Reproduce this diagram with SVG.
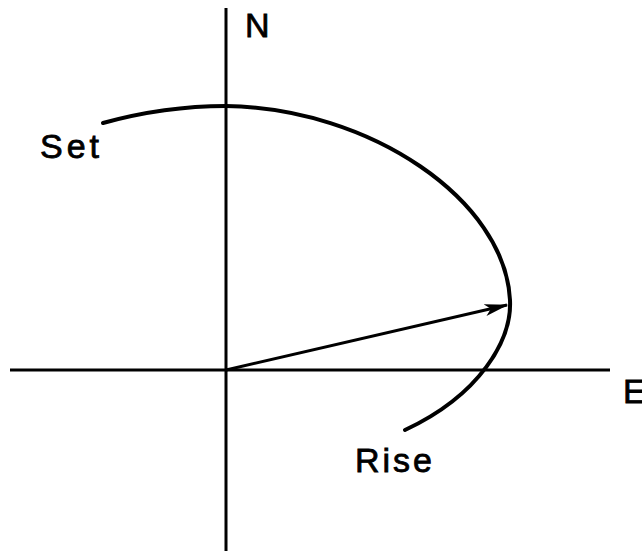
<svg xmlns="http://www.w3.org/2000/svg" width="642" height="551" viewBox="0 0 642 551">
<defs>
<style>
.ax{stroke:#000;stroke-width:3;fill:none}
.cv{stroke:#000;stroke-width:4;fill:none;stroke-linecap:round}
.t{font-family:"Liberation Sans",Arial,sans-serif;font-size:34px;fill:#000;stroke:#000;stroke-width:0.8px;letter-spacing:3px}
</style>
<marker id="ah" viewBox="0 0 16 10" refX="15" refY="5" markerWidth="8" markerHeight="5" orient="auto" markerUnits="strokeWidth">
<path d="M0,1 L16,5 L0,9 L4,5 Z" fill="#000"/>
</marker>
</defs>
<rect width="642" height="551" fill="#fff"/>
<g id="connectors">
<line id="axis-ns" class="ax" x1="226" y1="8" x2="226" y2="551"/>
<line id="axis-ew" class="ax" x1="10" y1="370" x2="610" y2="370"/>
<path id="path" class="cv" d="M103,123 C150,110 195,106 226,106 C370,108 505,200 510,300 C512,340 480,395 405,430"/>
<line id="vector" class="ax" x1="226" y1="370" x2="507" y2="305" marker-end="url(#ah)"/>
</g>
<g id="label-n"><text class="t" x="245" y="37">N</text></g>
<g id="label-e"><text class="t" x="623" y="403">E</text></g>
<g id="label-set"><text class="t" x="40" y="158" style="letter-spacing:4px">Set</text></g>
<g id="label-rise"><text class="t" x="355" y="472">Rise</text></g>
</svg>
